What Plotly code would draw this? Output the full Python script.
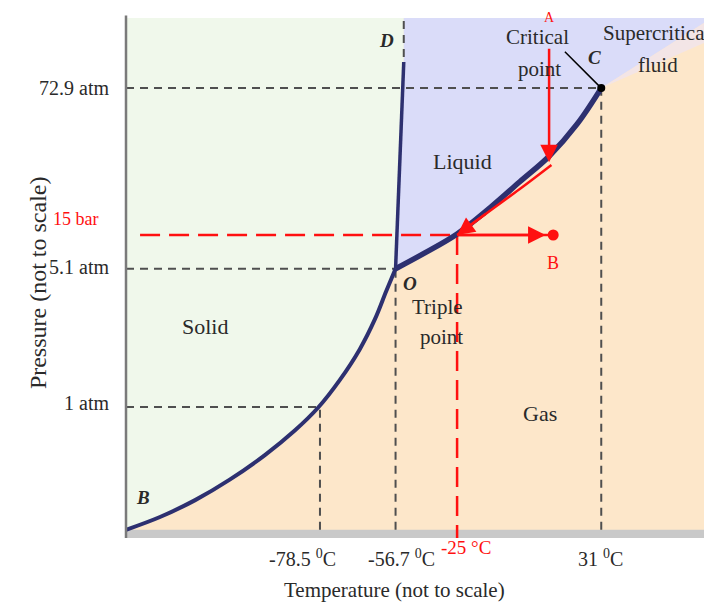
import plotly.graph_objects as go

# Phase diagram of CO2, drawn in "not to scale" diagram units:
# x runs 0..100 (temperature), y runs 0..100 (pressure)

# key temperatures (positions on the diagram) and their labels
t_pos = [33.1, 46.0, 81.1]
t_labels = ["-78.5 <sup>0</sup>C", "-56.7 <sup>0</sup>C", "31 <sup>0</sup>C"]

# key pressures and their labels (same order: 1 atm, triple point, critical point)
p_pos = [24.0, 51.0, 86.3]
p_labels = ["1 atm", "5.1 atm", "72.9 atm"]

# the worked example: 15 bar at -25 °C
t_example = 56.5
p_example = 57.6

# phase boundaries
subl_x = [0, 5.8, 11.8, 17.7, 23.7, 28.8, 32.8, 36.5, 39.9, 42.5, 44.4, 46.0]
subl_y = [0, 2.5, 5.8, 9.8, 14.6, 19.4, 23.9, 29.3, 35.3, 41.2, 46.6, 51.0]
fus_x = [46.0, 47.4]
fus_y = [51.0, 91.4]
vap_x = [46.0, 51.0, 56.5, 62.1, 67.2, 72.2, 77.0, 81.1]
vap_y = [51.0, 54.1, 57.8, 62.9, 68.0, 73.0, 79.3, 86.3]

# supercritical transition (from the critical point to the right edge)
sc_x = [81.1, 100]
sc_hi = [86.3, 100.0]
sc_lo = [86.3, 95.8]

# red path A -> B
path_a_x = [72.2, 72.2]
path_a_y = [94.3, 71.8]
path_curve_x = [72.6, 67.2, 61.6, 56.5]
path_curve_y = [71.3, 66.6, 61.9, 57.6]
point_b = (72.9, 57.6)

SERIF = "Liberation Serif"
NAVY = "#2d3070"
GRAY = "#4f4f4f"
RED = "#ff1010"
GREEN = "#f0f8eb"
LAVENDER = "#dadcf9"
ORANGE = "#fde7ca"
INK = "#2a2a2a"

fig = go.Figure()

# solid region
fig.add_trace(go.Scatter(
    x=subl_x + fus_x[1:] + [fus_x[1], 0],
    y=subl_y + fus_y[1:] + [100, 100],
    fill="toself", fillcolor=GREEN, line=dict(width=0), mode="lines",
    hoverinfo="skip"))

# liquid region (continues above the critical point)
fig.add_trace(go.Scatter(
    x=fus_x + [fus_x[1], 100, sc_x[1]] + vap_x[::-1],
    y=fus_y + [100, 100, sc_hi[1]] + vap_y[::-1],
    fill="toself", fillcolor=LAVENDER, line=dict(width=0), mode="lines",
    hoverinfo="skip"))

# soft blend into the supercritical fluid
fig.add_trace(go.Scatter(
    x=[sc_x[0], sc_x[1], sc_x[1]],
    y=[sc_hi[0], sc_hi[1], sc_lo[1]],
    fill="toself", fillcolor="#f3e5e6", line=dict(width=0), mode="lines",
    hoverinfo="skip"))

dash_gray = dict(color=GRAY, width=2, dash="8px,6px")

# dashed guides for the key points
for p, t in zip(p_pos, t_pos):
    fig.add_trace(go.Scatter(x=[0, t], y=[p, p], mode="lines", line=dash_gray,
                             hoverinfo="skip"))
    fig.add_trace(go.Scatter(x=[t, t], y=[0, p], mode="lines", line=dash_gray,
                             hoverinfo="skip"))
fig.add_trace(go.Scatter(x=[fus_x[1], fus_x[1]], y=[fus_y[1] + 1, 100],
                         mode="lines", line=dash_gray, hoverinfo="skip"))

# red dashed guides for 15 bar / -25 °C
dash_red = dict(color=RED, width=2.5, dash="20px,9px")
fig.add_trace(go.Scatter(x=[2.4, t_example], y=[p_example, p_example],
                         mode="lines", line=dash_red, hoverinfo="skip"))
fig.add_trace(go.Scatter(x=[t_example, t_example], y=[p_example, -1.6],
                         mode="lines", line=dash_red, hoverinfo="skip"))

# phase boundaries
fig.add_trace(go.Scatter(x=subl_x, y=subl_y, mode="lines",
                         line=dict(color=NAVY, width=4, shape="spline"),
                         hoverinfo="skip"))
fig.add_trace(go.Scatter(x=fus_x, y=fus_y, mode="lines",
                         line=dict(color=NAVY, width=3.5), hoverinfo="skip"))
fig.add_trace(go.Scatter(x=vap_x, y=vap_y, mode="lines",
                         line=dict(color=NAVY, width=5.5, shape="spline"),
                         hoverinfo="skip"))

# red path along the curve and across to B
fig.add_trace(go.Scatter(x=path_curve_x, y=path_curve_y, mode="lines",
                         line=dict(color=RED, width=2.5, shape="spline"),
                         hoverinfo="skip"))
fig.add_trace(go.Scatter(x=[t_example, point_b[0]], y=[p_example, point_b[1]],
                         mode="lines", line=dict(color=RED, width=2.5),
                         hoverinfo="skip"))
fig.add_trace(go.Scatter(x=[point_b[0]], y=[point_b[1]], mode="markers",
                         marker=dict(color=RED, size=11), hoverinfo="skip"))

# critical point
fig.add_trace(go.Scatter(x=[vap_x[-1]], y=[vap_y[-1]], mode="markers",
                         marker=dict(color="black", size=8), hoverinfo="skip"))
fig.add_trace(go.Scatter(x=[74.9, vap_x[-1]], y=[93.4, vap_y[-1]], mode="lines",
                         line=dict(color="black", width=1.5), hoverinfo="skip"))

anns = []


def arrow(x, y, ax, ay):
    anns.append(dict(x=x, y=y, ax=ax, ay=ay, xref="x", yref="y", axref="x",
                     ayref="y", text="", showarrow=True, arrowhead=2,
                     arrowsize=1.4, arrowwidth=2.5, arrowcolor=RED))


arrow(path_a_x[1], path_a_y[1], path_a_x[0], path_a_y[0])
arrow(path_curve_x[-1], path_curve_y[-1], path_curve_x[-2], path_curve_y[-2])
arrow(point_b[0] - 1.3, point_b[1], t_example, p_example)


def label(text, x, y, size=21, color=INK, **kw):
    d = dict(text=text, x=x, y=y, xref="x", yref="y", showarrow=False,
             font=dict(family=SERIF, size=size, color=color))
    d.update(kw)
    anns.append(d)


# region labels
label("Solid", 13.5, 39.8, size=22)
label("Liquid", 57.5, 71.9, size=22)
label("Gas", 70.6, 22.7, size=22)
label("Triple", 53.1, 43.6)
label("point", 53.9, 37.7)
label("Critical", 70.3, 96.2)
label("point", 70.6, 90.0)
label("Supercritical", 90.6, 97.1)
label("fluid", 90.8, 90.8)

# point letters
label("<b><i>D</i></b>", 44.4, 95.7, size=19)
label("<b><i>C</i></b>", 80.0, 92.2, size=19)
label("<b><i>O</i></b>", 48.5, 48.2, size=19)
label("<b><i>B</i></b>", 2.9, 6.4, size=19)
label("B", point_b[0], 52.1, size=18, color=RED)
anns.append(dict(text="A", x=path_a_x[0], xref="x", y=1, yref="paper",
                 yanchor="middle", yshift=1, showarrow=False,
                 font=dict(family=SERIF, size=14, color=RED)))

# pressure labels
y_shift = [4, 2, 0]
for p, txt, ys in zip(p_pos, p_labels, y_shift):
    anns.append(dict(text=txt, x=0, xref="paper", y=p, yref="y",
                     xanchor="right", xshift=-15, yshift=ys, showarrow=False,
                     font=dict(family=SERIF, size=20, color=INK)))
anns.append(dict(text="15 bar", x=0, xref="paper", y=p_example, yref="y",
                 xanchor="right", xshift=-26, yshift=16, showarrow=False,
                 font=dict(family=SERIF, size=18, color=RED)))

# temperature labels
x_shift = [-17, 6, -1]
for t, txt, xs in zip(t_pos, t_labels, x_shift):
    anns.append(dict(text=txt, x=t, xref="x", y=0, yref="paper",
                     yanchor="middle", xshift=xs, yshift=-20, showarrow=False,
                     font=dict(family=SERIF, size=20, color=INK)))
anns.append(dict(text="-25 °C", x=t_example, xref="x", y=0, yref="paper",
                 yanchor="middle", xshift=9, yshift=-9, showarrow=False,
                 font=dict(family=SERIF, size=19, color=RED)))

# axis titles
anns.append(dict(text="Temperature (not to scale)", x=45.9, xref="x", y=0,
                 yref="paper", yanchor="middle", yshift=-52, showarrow=False,
                 font=dict(family=SERIF, size=21, color=INK)))
anns.append(dict(text="Pressure (not to scale)", x=0, xref="paper", y=48.2,
                 yref="y", xshift=-103, textangle=-90, showarrow=False,
                 font=dict(family=SERIF, size=24, color=INK)))

shapes = [
    # bottom axis bar
    dict(type="rect", xref="paper", yref="y", x0=0, x1=1, y0=-1.6, y1=0,
         fillcolor="#c9c9c9", line=dict(width=0), layer="below"),
    # left axis line
    dict(type="line", xref="paper", yref="paper", x0=0, x1=0, y0=0, y1=1.005,
         line=dict(color="#7a7a7a", width=2.5)),
]

# the page adds an 8px body margin, so the figure is 8px smaller each way
fig.update_layout(
    width=704, height=594,
    margin=dict(l=118, r=0, t=10, b=64, pad=0),
    paper_bgcolor="white", plot_bgcolor=ORANGE,
    showlegend=False,
    xaxis=dict(range=[0, 100], visible=False, fixedrange=True),
    yaxis=dict(range=[-1.6, 100], visible=False, fixedrange=True),
    annotations=anns, shapes=shapes,
)

fig.write_html("out.html")
